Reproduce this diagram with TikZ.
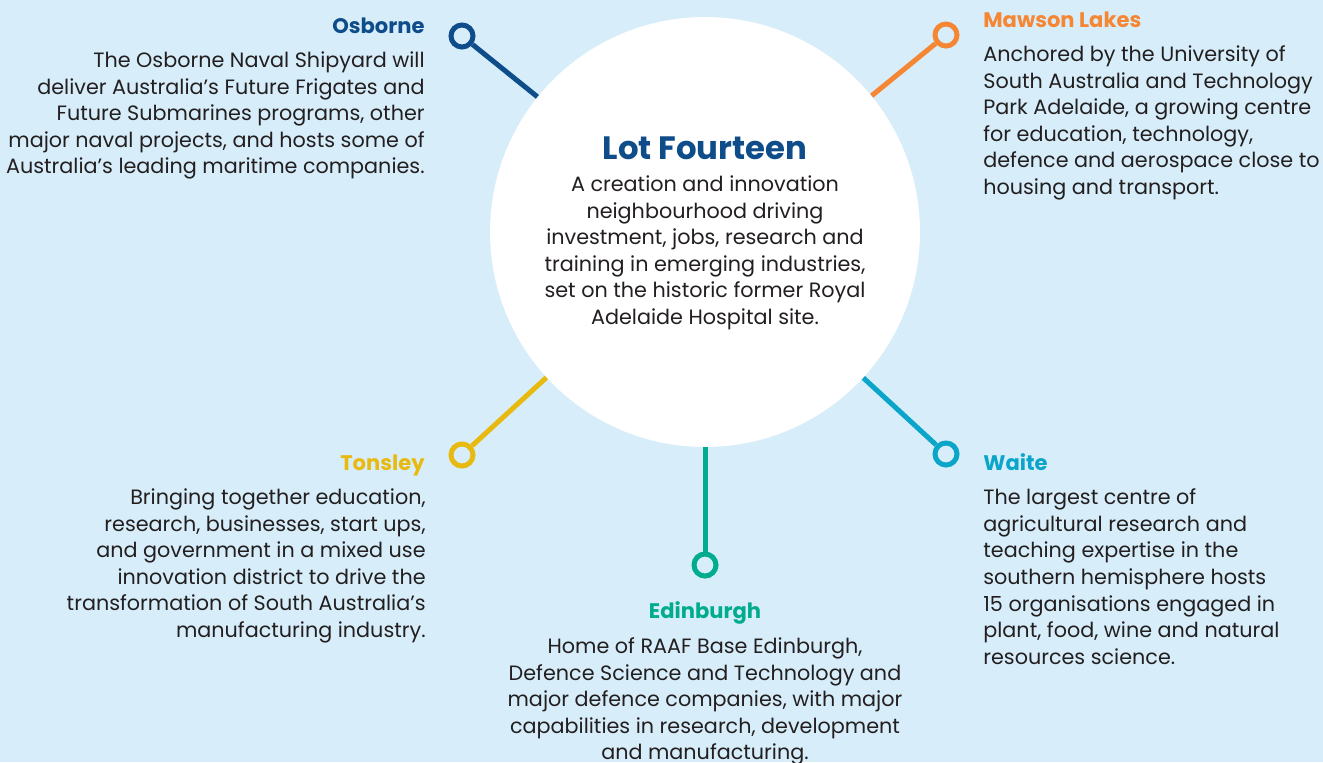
\documentclass[tikz,border=0pt]{standalone}
\usepackage{fontspec}
\setmainfont{Poppins}

\definecolor{sky}{HTML}{D7EEFA}
\definecolor{ink}{HTML}{231F20}
\definecolor{osb}{HTML}{0E4D8A}
\definecolor{maw}{HTML}{F58634}
\definecolor{ton}{HTML}{E8B90E}
\definecolor{edi}{HTML}{00AB8E}
\definecolor{wai}{HTML}{0BA5C9}

\begin{document}
\begin{tikzpicture}[x = 0.02cm, y = -0.02cm,
	hub/.style = {circle, fill = white, minimum size = 8.6cm, inner sep = 0},
	ring/.style = {circle, draw = #1, fill = sky, line width = 0.1cm, minimum size = 0.44cm, inner sep = 0},
	spoke/.style = {line width = 0.1cm, draw = #1},
	head/.style = {font = \fontsize{12}{15.14}\selectfont\bfseries, text = #1, inner sep = 0},
	body/.style = {font = \fontsize{11.8}{15.14}\selectfont, text = ink, inner sep = 0}]

	% Background
	
	\useasboundingbox [fill = sky] (0, 0) rectangle (1323, 762);
	
	% Hub + rings
	
	\node [hub] (hub) at (705, 232) {};
	
	\node [ring = osb] (osborne) at (462, 36) {};
	\node [ring = maw] (mawson) at (946, 35) {};
	\node [ring = ton] (tonsley) at (462, 455) {};
	\node [ring = edi] (edinburgh) at (705, 565) {};
	\node [ring = wai] (waite) at (946, 454) {};
	
	% Spokes
	
	\draw [spoke = osb] (osborne) -- (hub);
	\draw [spoke = maw] (mawson) -- (hub);
	\draw [spoke = ton] (tonsley) -- (hub);
	\draw [spoke = edi] (edinburgh) -- (hub);
	\draw [spoke = wai] (waite) -- (hub);
	
	% Lot Fourteen (base = last line)
	
	\node [head = osb, font = \fontsize{18.4}{20}\selectfont\bfseries, anchor = base] (lot head) at (705, 159) {Lot Fourteen};
	\node [body, align = center, anchor = base] (lot text) at (705, 324.5)
		{A creation and innovation\\neighbourhood driving\\investment, jobs, research and\\training in emerging industries,\\set on the historic former Royal\\Adelaide Hospital site.};
	
	% Osborne
	
	\node [head = osb, anchor = base east] (osborne head) at (425, 33) {Osborne};
	\node [body, align = right, anchor = base east] (osborne text) at (425, 173.8)
		{The Osborne Naval Shipyard will\\deliver Australia’s Future Frigates and\\Future Submarines programs, other\\major naval projects, and hosts some of\\Australia’s leading maritime companies.};
	
	% Mawson Lakes
	
	\node [head = maw, anchor = base west] (mawson head) at (983, 27) {Mawson Lakes};
	\node [body, align = left, anchor = base west] (mawson text) at (983, 194.5)
		{Anchored by the University of\\South Australia and Technology\\Park Adelaide, a growing centre\\for education, technology,\\defence and aerospace close to\\housing and transport.};
	
	% Tonsley
	
	\node [head = ton, anchor = base east] (tonsley head) at (425, 470) {Tonsley};
	\node [body, align = right, anchor = base east] (tonsley text) at (426, 637.5)
		{Bringing together education,\\research, businesses, start ups,\\and government in a mixed use\\innovation district to drive the\\transformation of South Australia’s\\manufacturing industry.};
	
	% Edinburgh
	
	\node [head = edi, anchor = base] (edinburgh head) at (705, 618) {Edinburgh};
	\node [body, align = center, anchor = base] (edinburgh text) at (705, 759.8)
		{Home of RAAF Base Edinburgh,\\Defence Science and Technology and\\major defence companies, with major\\capabilities in research, development\\and manufacturing.};
	
	% Waite
	
	\node [head = wai, anchor = base west] (waite head) at (983, 470) {Waite};
	\node [body, align = left, anchor = base west] (waite text) at (983, 664.2)
		{The largest centre of\\agricultural research and\\teaching expertise in the\\southern hemisphere hosts\\15 organisations engaged in\\plant, food, wine and natural\\resources science.};

\end{tikzpicture}
\end{document}
